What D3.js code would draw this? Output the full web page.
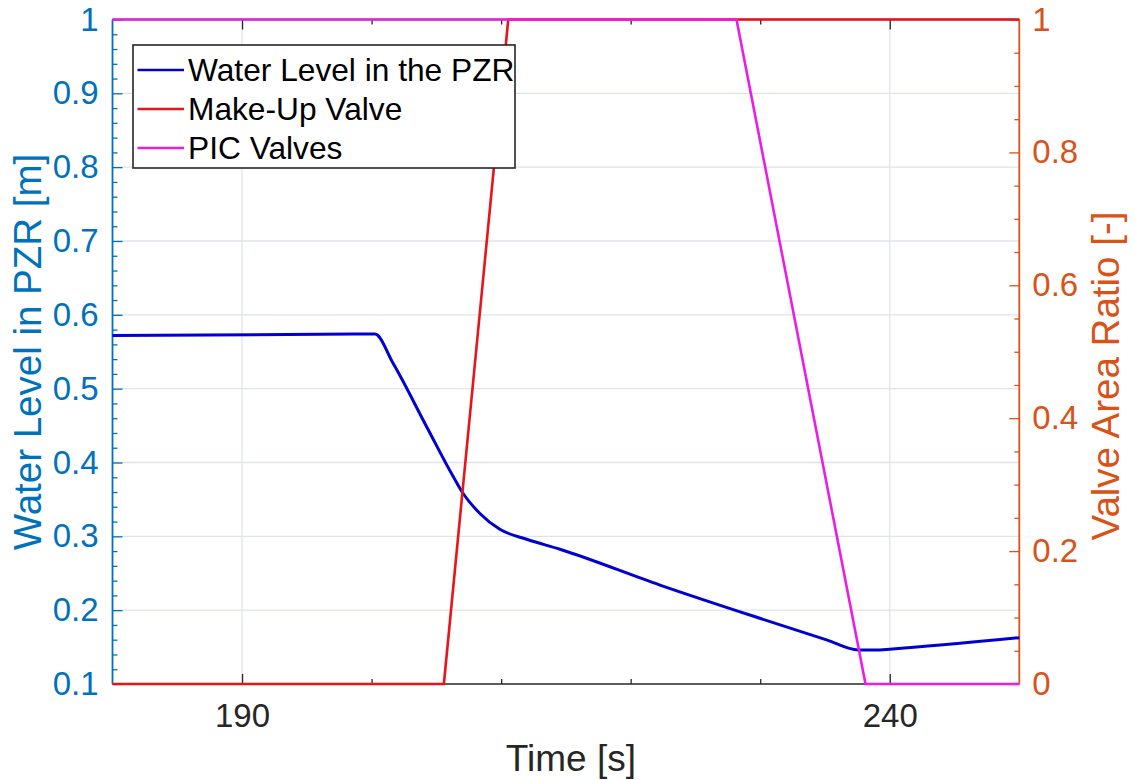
<!DOCTYPE html>
<html>
<head>
<meta charset="utf-8">
<script src="https://cdn.jsdelivr.net/npm/d3@7"></script>
<style>
  html, body { margin: 0; padding: 0; background: #fff; }
  svg { display: block; font-family: "Liberation Sans", Arial, sans-serif; }
</style>
</head>
<body>
<svg id="chart" width="1135" height="780"></svg>
<script>
// Pressurizer water level (left axis) in time
const levelTime  = [180, 200.26, 201.67, 204.25, 206.30, 207.07, 208.36, 209.90, 211.97, 214.54, 222.26, 229.97, 235.12, 237.56, 239.23, 240, 250];
const levelValue = [0.572, 0.574, 0.534, 0.4485, 0.381, 0.358, 0.331, 0.3095, 0.296, 0.2825, 0.234, 0.189, 0.1598, 0.1461, 0.146, 0.147, 0.1627];

// Valve area ratios (right axis)
const makeupTime  = [180, 205.58, 210.55, 250];
const makeupValue = [0, 0, 1, 1];
const picTime     = [180, 228.17, 238.13, 250];
const picValue    = [1, 1, 0, 0];

// Axis ticks
const xMajorTicks = [190, 240];
const xMinorTicks = [200, 210, 220, 230];
const leftTicks   = [0.1, 0.2, 0.3, 0.4, 0.5, 0.6, 0.7, 0.8, 0.9, 1];
const rightTicks  = [0, 0.2, 0.4, 0.6, 0.8, 1];

const seriesNames = ["Water Level in the PZR", "Make-Up Valve", "PIC Valves"];

const C_LEFT = "#0072BD", C_RIGHT = "#D95319", C_AXIS = "#262626";
const C_BLUE = "#0000d0", C_RED = "#e8141a", C_MAG = "#e81ee8";

const svg = d3.select("#chart");
const L = 112.5, R = 1019.3, T = 19.5, B = 684;

const x  = d3.scaleLinear().domain([180, 250]).range([L, R]);
const yL = d3.scaleLinear().domain([0.1, 1]).range([B, T]);
const yR = d3.scaleLinear().domain([0, 1]).range([B, T]);

// grid
const grid = svg.append("g").attr("stroke", "#dfe4ea").attr("stroke-width", 1.3);
grid.selectAll("line.gy").data(leftTicks.filter(d => d > 0.1 && d < 1)).join("line")
  .attr("x1", L).attr("x2", R).attr("y1", d => yL(d)).attr("y2", d => yL(d));
grid.selectAll("line.gx").data(xMajorTicks).join("line")
  .attr("x1", d => x(d)).attr("x2", d => x(d)).attr("y1", T).attr("y2", B);

function styleAxis(g, color, fontSize) {
  g.select(".domain").remove();
  g.selectAll(".tick line").attr("stroke", color).attr("stroke-width", 1.3);
  g.selectAll(".tick text").attr("fill", color).attr("font-size", fontSize)
    .attr("font-family", "'Liberation Sans', Arial, sans-serif");
}

// bottom axis
const xb = svg.append("g").attr("transform", `translate(0,${B})`)
  .call(d3.axisBottom(x).tickValues(xMajorTicks).tickFormat(d3.format("d")).tickSize(-10).tickPadding(20));
styleAxis(xb, C_AXIS, 33);
const xbm = svg.append("g").attr("transform", `translate(0,${B})`)
  .call(d3.axisBottom(x).tickValues(xMinorTicks).tickFormat("").tickSize(-5));
styleAxis(xbm, C_AXIS, 33);
// top axis
const xt = svg.append("g").attr("transform", `translate(0,${T})`)
  .call(d3.axisTop(x).tickValues(xMajorTicks).tickFormat("").tickSize(-10));
styleAxis(xt, C_AXIS, 33);
const xtm = svg.append("g").attr("transform", `translate(0,${T})`)
  .call(d3.axisTop(x).tickValues(xMinorTicks).tickFormat("").tickSize(-5));
styleAxis(xtm, C_AXIS, 33);

// left axis
const leftMinor = d3.range(0.12, 1.0, 0.02).filter(v => Math.abs(v * 10 - Math.round(v * 10)) > 1e-6);
const ya = svg.append("g").attr("transform", `translate(${L},0)`)
  .call(d3.axisLeft(yL).tickValues(leftTicks).tickFormat(d => d3.format("")(d)).tickSize(-10).tickPadding(14));
styleAxis(ya, C_LEFT, 33);
const yam = svg.append("g").attr("transform", `translate(${L},0)`)
  .call(d3.axisLeft(yL).tickValues(leftMinor).tickFormat("").tickSize(-5));
styleAxis(yam, C_LEFT, 33);

// right axis
const rightMinor = d3.range(0.05, 1.0, 0.05).filter(v => Math.abs(v * 5 - Math.round(v * 5)) > 1e-6);
const yr = svg.append("g").attr("transform", `translate(${R},0)`)
  .call(d3.axisRight(yR).tickValues(rightTicks).tickFormat(d => d3.format("")(d)).tickSize(-10).tickPadding(13));
styleAxis(yr, C_RIGHT, 33);
const yrm = svg.append("g").attr("transform", `translate(${R},0)`)
  .call(d3.axisRight(yR).tickValues(rightMinor).tickFormat("").tickSize(-5));
styleAxis(yrm, C_RIGHT, 33);

// box
svg.append("line").attr("x1", L).attr("x2", R).attr("y1", B).attr("y2", B).attr("stroke", C_AXIS).attr("stroke-width", 1.5);
svg.append("line").attr("x1", L).attr("x2", R).attr("y1", T).attr("y2", T).attr("stroke", C_AXIS).attr("stroke-width", 1.5);
svg.append("line").attr("x1", L).attr("x2", L).attr("y1", T).attr("y2", B).attr("stroke", C_LEFT).attr("stroke-width", 1.8);
svg.append("line").attr("x1", R).attr("x2", R).attr("y1", T).attr("y2", B).attr("stroke", C_RIGHT).attr("stroke-width", 1.8);

// series
const lineL = d3.line().x(d => x(d[0])).y(d => yL(d[1])).curve(d3.curveMonotoneX);
const lineR = d3.line().x(d => x(d[0])).y(d => yR(d[1]));
svg.append("path").datum(d3.zip(levelTime, levelValue)).attr("d", lineL)
  .attr("fill", "none").attr("stroke", C_BLUE).attr("stroke-width", 3).attr("stroke-linejoin", "round");
svg.append("path").datum(d3.zip(makeupTime, makeupValue)).attr("d", lineR)
  .attr("fill", "none").attr("stroke", C_RED).attr("stroke-width", 2.6).attr("stroke-linejoin", "round");
svg.append("path").datum(d3.zip(picTime, picValue)).attr("d", lineR)
  .attr("fill", "none").attr("stroke", C_MAG).attr("stroke-width", 2.6).attr("stroke-linejoin", "round");

// axis labels
svg.append("text").attr("x", (L + R) / 2 + 5).attr("y", 771).attr("text-anchor", "middle")
  .attr("font-size", 37).attr("fill", C_AXIS).text("Time [s]");
svg.append("text").attr("transform", `translate(41,352) rotate(-90)`).attr("text-anchor", "middle")
  .attr("font-size", 38.5).attr("fill", C_LEFT).text("Water Level in PZR [m]");
svg.append("text").attr("transform", `translate(1119,376) rotate(-90)`).attr("text-anchor", "middle")
  .attr("font-size", 38.5).attr("fill", C_RIGHT).text("Valve Area Ratio [-]");

// legend
const lg = svg.append("g");
lg.append("rect").attr("x", 133).attr("y", 45).attr("width", 382).attr("height", 123)
  .attr("fill", "#fff").attr("stroke", C_AXIS).attr("stroke-width", 1.6);
const legColors = [C_BLUE, C_RED, C_MAG];
seriesNames.forEach((name, i) => {
  const cy = 70 + i * 39;
  lg.append("line").attr("x1", 137.5).attr("x2", 184).attr("y1", cy).attr("y2", cy)
    .attr("stroke", legColors[i]).attr("stroke-width", 2.6);
  lg.append("text").attr("x", 188).attr("y", cy).attr("dy", "0.36em")
    .attr("font-size", 31.7).attr("fill", "#000").text(name);
});
</script>
</body>
</html>
